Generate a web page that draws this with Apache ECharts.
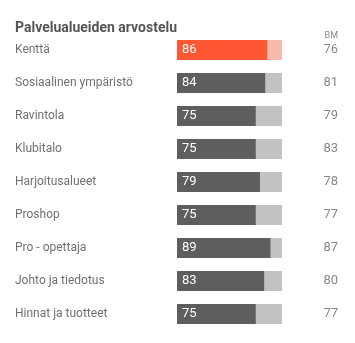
<!DOCTYPE html>
<html><head><meta charset="utf-8">
<script src="https://cdn.jsdelivr.net/npm/echarts@6/dist/echarts.min.js"></script>
<style>html,body{margin:0;padding:0;background:#fff}#c{width:355px;height:343px}</style>
</head><body><div id="c"></div>
<script>
const categories = ['Kenttä','Sosiaalinen ympäristö','Ravintola','Klubitalo','Harjoitusalueet','Proshop','Pro - opettaja','Johto ja tiedotus','Hinnat ja tuotteet'];
const scores = [86, 84, 75, 75, 79, 75, 89, 83, 75];
const benchmark = [76, 81, 79, 83, 78, 77, 87, 80, 77];
const highlightIndex = 0;
const SCALE_MAX = 100;

const chart = echarts.init(document.getElementById('c'), null, {renderer:'canvas'});
const font = 'Roboto, "Noto Sans", sans-serif';
chart.setOption({
  animation:false,
  textStyle:{fontFamily:font},
  title:{text:'Palvelualueiden arvostelu', left:10, top:16,
    textStyle:{fontFamily:font,fontSize:14,fontWeight:'bold',color:'#555'}},
  graphic:[{type:'text', right:17, top:31, style:{text:'BM', font:'9px '+font, fill:'#888'}}],
  grid:{left:177, right:73, top:33.5, bottom:12.5},
  xAxis:{type:'value', min:0, max:SCALE_MAX, show:false},
  yAxis:[
    {type:'category', data:categories, inverse:true, axisLine:{show:false}, axisTick:{show:false},
     axisLabel:{align:'left', margin:162, fontSize:12, color:'#707070', fontFamily:font, padding:[0,0,6,0]}},
    {type:'category', data:benchmark, inverse:true, position:'right', axisLine:{show:false}, axisTick:{show:false},
     axisLabel:{align:'right', margin:56, fontSize:13, color:'#888', fontFamily:font}}
  ],
  series:[
    {type:'bar', barWidth:20, barGap:'-100%', silent:true,
     data:categories.map((c,i)=>({value:SCALE_MAX, itemStyle:{color: i===highlightIndex ? '#F8BBAB' : '#C2C2C2'}}))},
    {type:'bar', barWidth:20,
     data:scores.map((v,i)=>({value:v, itemStyle:{color: i===highlightIndex ? '#FF5733' : '#5E5E5E'}})),
     label:{show:true, position:'insideLeft', distance:5, color:'#fff', fontSize:13, fontFamily:font}}
  ]
});
</script></body></html>
